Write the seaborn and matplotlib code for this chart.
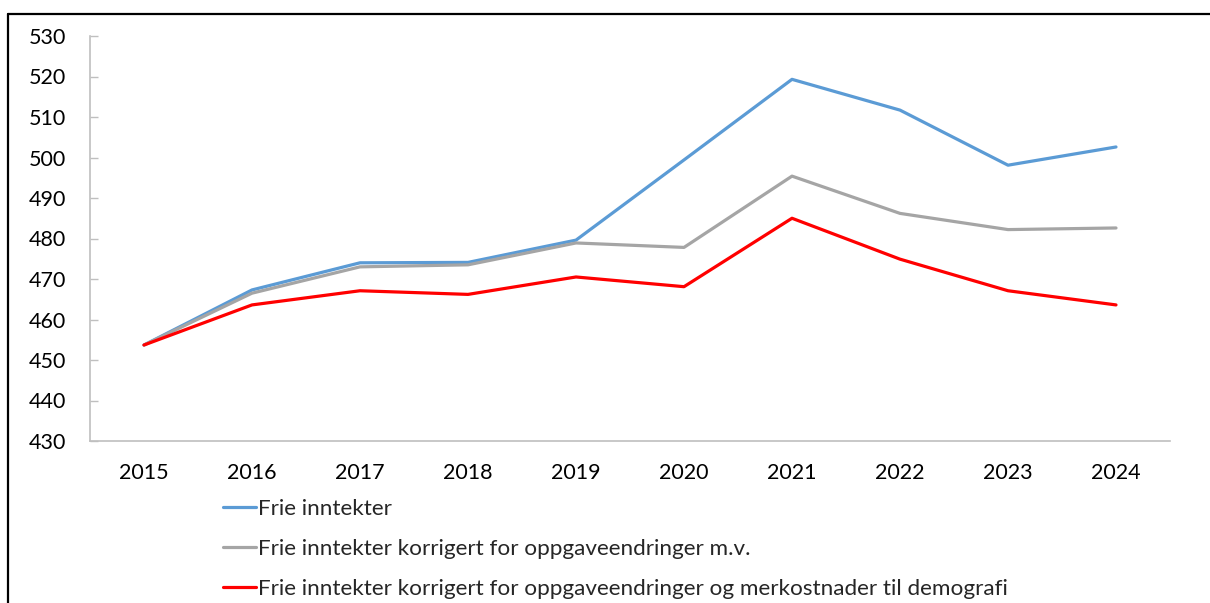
import matplotlib
matplotlib.use("Agg")
import matplotlib.pyplot as plt
import seaborn as sns
import pandas as pd
from matplotlib.lines import Line2D

years = ["2015", "2016", "2017", "2018", "2019", "2020", "2021", "2022", "2023", "2024"]
frie = [453.7, 467.3, 474.0, 474.1, 479.6, 499.4, 519.3, 511.7, 498.1, 502.6]
korr = [453.7, 466.5, 473.0, 473.5, 478.9, 477.8, 495.4, 486.2, 482.2, 482.6]
demo = [453.7, 463.6, 467.1, 466.2, 470.5, 468.1, 485.0, 474.9, 467.1, 463.6]
labels = [
    "Frie inntekter",
    "Frie inntekter korrigert for oppgaveendringer m.v.",
    "Frie inntekter korrigert for oppgaveendringer og merkostnader til demografi",
]
colors = ["#5b9bd5", "#a5a5a5", "#ff0000"]
yticks = [430, 440, 450, 460, 470, 480, 490, 500, 510, 520, 530]

df = pd.DataFrame({
    "year": years * 3,
    "value": frie + korr + demo,
    "series": [labels[0]] * 10 + [labels[1]] * 10 + [labels[2]] * 10,
})

sns.set_theme(style="white")
plt.rcParams["font.family"] = ["Lato", "DejaVu Sans"]

fig = plt.figure(figsize=(12.1, 6.03), dpi=100)
ax = fig.add_axes([90 / 1210, 1 - 441 / 603, (1170 - 90) / 1210, (441 - 36) / 603])

sns.lineplot(data=df, x="year", y="value", hue="series", palette=colors,
             linewidth=2.3, ax=ax, legend=False, sort=False)

ax.set_xlim(-0.5, 9.5)
ax.set_ylim(430, 530)
ax.set_yticks(yticks)
ax.set_yticklabels([str(t) for t in yticks])
ax.set_xlabel("")
ax.set_ylabel("")
for s in ["top", "right"]:
    ax.spines[s].set_visible(False)
for s in ["left", "bottom"]:
    ax.spines[s].set_color("#bfbfbf")
    ax.spines[s].set_linewidth(1.2)
ax.tick_params(axis="y", direction="in", length=6, width=1, color="#bfbfbf",
               labelsize=15.5, pad=17, left=True)
ax.tick_params(axis="x", length=0, labelsize=15.5, pad=16)
for lbl in ax.get_yticklabels() + ax.get_xticklabels():
    lbl.set_color("#000000")

handles = [Line2D([0], [0], color=c, lw=2.3) for c in colors]
fig.legend(handles, labels, loc="upper left", bbox_to_anchor=(223 / 1210, 1 - 499 / 603),
           frameon=False, fontsize=16.2, handlelength=1.45, handletextpad=0.1,
           labelspacing=0.88, borderaxespad=0, borderpad=0)

# outer frame (top and left edges visible)
ytop = 1 - 14 / 603
xl = 8 / 1210
fig.add_artist(Line2D([xl, xl], [0, ytop], transform=fig.transFigure, color="black", lw=1.6))
fig.add_artist(Line2D([xl, 1], [ytop, ytop], transform=fig.transFigure, color="black", lw=1.6))

fig.savefig("out.png", dpi=100)
